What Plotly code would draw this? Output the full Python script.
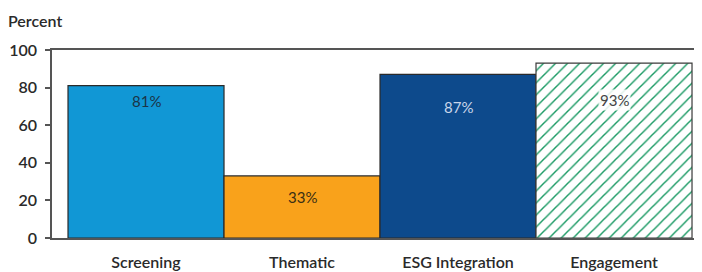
import plotly.graph_objects as go

categories = ["Screening", "Thematic", "ESG Integration", "Engagement"]
values = [81, 33, 87, 93]
labels = ["81%", "33%", "87%", "93%"]
bar_colors = ["#1197D5", "#F9A21B", "#0D4A8C", "#FFFFFF"]
label_colors = ["#1b3346", "#3a2f14", "#c9d6ea", "#444444"]
label_shift = [-15, -21, -33, -37]
y_ticks = [0, 20, 40, 60, 80, 100]

xs = list(range(len(categories)))

fig = go.Figure()
# solid bars
fig.add_trace(go.Bar(
    x=xs[:3], y=values[:3], width=1.0,
    marker=dict(color=bar_colors[:3], line=dict(color="#2a2a2a", width=1.2)),
    hoverinfo="skip",
))
# hatched bar
fig.add_trace(go.Bar(
    x=xs[3:], y=values[3:], width=1.0,
    marker=dict(
        color=bar_colors[3],
        line=dict(color="#3a3a3a", width=1.2),
        pattern=dict(shape="/", fgcolor="#1A9A64", bgcolor="#FFFFFF",
                     size=8.5, solidity=0.17, fillmode="replace"),
    ),
    hoverinfo="skip",
))

for i, (v, t, c, s) in enumerate(zip(values, labels, label_colors, label_shift)):
    fig.add_annotation(x=i, y=v, text=t, showarrow=False, yshift=s,
                       font=dict(family="Lato", size=15, color=c),
                       bgcolor="rgba(255,255,255,0.85)" if i == 3 else None)

fig.update_layout(
    width=694, height=264,
    margin=dict(l=44, r=0, t=42, b=34),
    paper_bgcolor="white", plot_bgcolor="white",
    showlegend=False, barmode="overlay",
    font=dict(family="Lato", size=15, color="#222222"),
    xaxis=dict(
        range=[-0.6026, 3.564], automargin=False,
        tickvals=xs, ticktext=categories, ticklabelstandoff=9,
        showline=True, linecolor="#555555", linewidth=1.5, mirror=True,
        ticks="", showgrid=False, zeroline=False,
        tickfont=dict(family="Lato", size=16, color="#2a2a2a", weight=600),
    ),
    yaxis=dict(
        range=[0, 100], automargin=False,
        tickvals=y_ticks, ticklabelstandoff=5,
        showline=True, linecolor="#555555", linewidth=1.5,
        ticks="outside", ticklen=5, tickcolor="#555555", tickwidth=1.5,
        showgrid=False, zeroline=False,
        tickfont=dict(family="Lato", size=16, color="#2a2a2a", weight=600),
    ),
)
fig.add_annotation(text="Percent", xref="paper", yref="paper", x=-0.07, y=1.0,
                   yshift=30, xanchor="left", yanchor="middle", showarrow=False,
                   font=dict(family="Lato", size=16, color="#2a2a2a", weight=600))

fig.write_html("out.html")
